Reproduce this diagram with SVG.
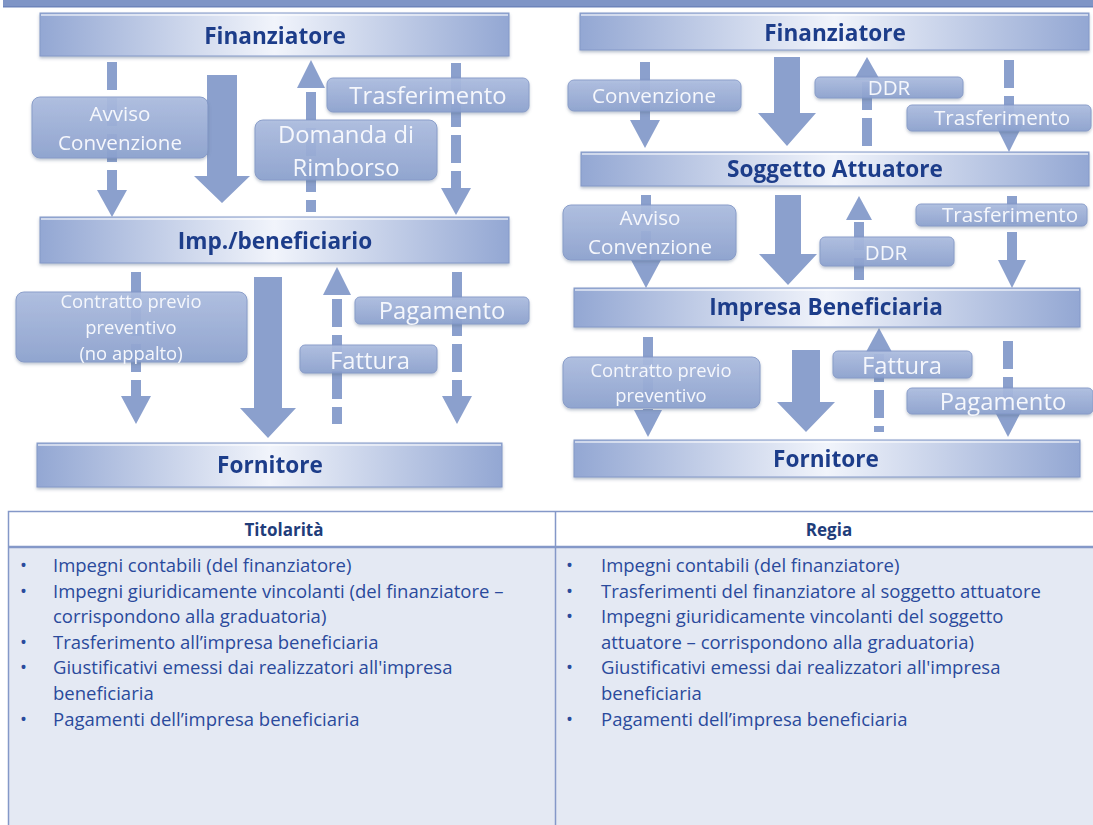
<svg xmlns="http://www.w3.org/2000/svg" width="1093" height="825" viewBox="0 0 1093 825">
  <defs>
    <linearGradient id="barGrad" x1="0" y1="0" x2="1" y2="0">
      <stop offset="0" stop-color="#93a7d3"/>
      <stop offset="0.5" stop-color="#f1f4fb"/>
      <stop offset="1" stop-color="#93a7d3"/>
    </linearGradient>
    <linearGradient id="labelGrad" x1="0" y1="0" x2="0" y2="1">
      <stop offset="0" stop-color="#adbde0"/>
      <stop offset="1" stop-color="#8da2cf"/>
    </linearGradient>
    <filter id="shadow" x="-5%" y="-20%" width="110%" height="160%">
      <feDropShadow dx="0" dy="2" stdDeviation="1.5" flood-color="#5a6a8a" flood-opacity="0.4"/>
    </filter>
    <style>
      .bar { fill: url(#barGrad); stroke: #8499c8; stroke-width: 1; }
      .barHi { fill: #ffffff; opacity: 0.55; }
      .barTxt { font-family: "Open Sans", "Liberation Sans", sans-serif; font-weight: bold; font-size: 22.6px; fill: #1f3d8a; text-anchor: middle; }
      .arrow { fill: #8ba0cd; }
      .dash { stroke: #8ba0cd; stroke-width: 10; fill: none; stroke-dasharray: 28 8; }
      .lbl { fill: url(#labelGrad); stroke: #8297c6; stroke-width: 1; opacity: 0.92; }
      .lblTxt { font-family: "Open Sans", "Liberation Sans", sans-serif; font-size: 23.8px; fill: #f5f7fc; text-anchor: middle; }
      .s19 { font-size: 20.6px; }
      .s17 { font-size: 18.4px; }
      .th { font-family: "Open Sans", "Liberation Sans", sans-serif; font-weight: bold; font-size: 17px; fill: #1f3d7a; text-anchor: middle; }
      .td { font-family: "Open Sans", "Liberation Sans", sans-serif; font-size: 18.5px; fill: #2a4a9c; }
      .grid { stroke: #8498c8; fill: none; }
    </style>
  </defs>

  <rect x="0" y="0" width="1093" height="825" fill="#ffffff"/>
  <!-- title band -->
  <rect x="3" y="0" width="1090" height="7" fill="#7f95c6"/>
  <rect x="3" y="6" width="1090" height="1.5" fill="#6d84ba"/>

  <!-- connectors -->
  <g id="connectors">
    <!-- titolarita -->
    <line class="dash" x1="112" y1="62" x2="112" y2="192"/>
    <polygon class="arrow" points="97,190 127,190 112,217"/>
    <polygon class="arrow" points="207,75 237,75 237,176 250,176 222,203 194,176 207,176"/>
    <polygon class="arrow" points="297,88 325,88 311,60"/>
    <line class="dash" x1="311" y1="92" x2="311" y2="212"/>
    <line class="dash" x1="456" y1="63" x2="456" y2="190"/>
    <polygon class="arrow" points="441,188 471,188 456,215"/>

    <line class="dash" x1="136" y1="272" x2="136" y2="398"/>
    <polygon class="arrow" points="121,396 151,396 136,424"/>
    <polygon class="arrow" points="254,277 282,277 282,408 296,408 268,438 240,408 254,408"/>
    <polygon class="arrow" points="323,295 351,295 337,267"/>
    <line class="dash" x1="337" y1="299" x2="337" y2="424"/>
    <line class="dash" x1="457" y1="272" x2="457" y2="398"/>
    <polygon class="arrow" points="442,396 472,396 457,424"/>

    <!-- regia -->
    <line class="dash" x1="645" y1="62" x2="645" y2="122"/>
    <polygon class="arrow" points="630,120 660,120 645,148"/>
    <polygon class="arrow" points="774,57 800,57 800,113 816,113 787,146 758,113 774,113"/>
    <polygon class="arrow" points="854,80 880,80 867,57"/>
    <line class="dash" x1="867" y1="82" x2="867" y2="150"/>
    <line class="dash" x1="1009" y1="60" x2="1009" y2="126"/>
    <polygon class="arrow" points="995,124 1023,124 1009,152"/>

    <line class="dash" x1="646" y1="195" x2="646" y2="262"/>
    <polygon class="arrow" points="631,260 661,260 646,288"/>
    <polygon class="arrow" points="775,195 801,195 801,254 817,254 788,285 759,254 775,254"/>
    <polygon class="arrow" points="846,220 872,220 859,196"/>
    <line class="dash" x1="859" y1="222" x2="859" y2="280"/>
    <line class="dash" x1="1012" y1="196" x2="1012" y2="262"/>
    <polygon class="arrow" points="998,260 1026,260 1012,288"/>

    <line class="dash" x1="648" y1="337" x2="648" y2="412"/>
    <polygon class="arrow" points="634,410 662,410 648,437"/>
    <polygon class="arrow" points="792,350 820,350 820,402 835,402 806,432 777,402 792,402"/>
    <polygon class="arrow" points="866,352 892,352 879,328"/>
    <line class="dash" x1="879" y1="354" x2="879" y2="432"/>
    <line class="dash" x1="1008" y1="341" x2="1008" y2="412"/>
    <polygon class="arrow" points="994,410 1022,410 1008,437"/>
  </g>

  <!-- connector labels -->
  <g id="labels" filter="url(#shadow)">
    <rect class="lbl" x="32" y="97" width="176" height="61" rx="8"/>
    <rect class="lbl" x="255" y="120" width="182" height="60" rx="8"/>
    <rect class="lbl" x="327" y="78" width="202" height="34" rx="6"/>
    <rect class="lbl" x="16" y="292" width="231" height="70" rx="8"/>
    <rect class="lbl" x="355" y="297" width="174" height="27" rx="5"/>
    <rect class="lbl" x="300" y="345" width="137" height="28" rx="5"/>

    <rect class="lbl" x="568" y="80" width="173" height="31" rx="6"/>
    <rect class="lbl" x="815" y="77" width="148" height="21" rx="5"/>
    <rect class="lbl" x="907" y="105" width="184" height="26" rx="5"/>
    <rect class="lbl" x="563" y="205" width="173" height="55" rx="8"/>
    <rect class="lbl" x="820" y="237" width="134" height="29" rx="5"/>
    <rect class="lbl" x="916" y="204" width="171" height="22" rx="5"/>
    <rect class="lbl" x="563" y="357" width="197" height="51" rx="8"/>
    <rect class="lbl" x="833" y="351" width="139" height="27" rx="5"/>
    <rect class="lbl" x="907" y="388" width="186" height="26" rx="5"/>
  </g>
  <g id="labelText">
    <text class="lblTxt s19" x="120" y="121">Avviso</text>
    <text class="lblTxt s19" x="120" y="150">Convenzione</text>
    <text class="lblTxt" x="346" y="143">Domanda di</text>
    <text class="lblTxt" x="346" y="176">Rimborso</text>
    <text class="lblTxt" x="428" y="104">Trasferimento</text>
    <text class="lblTxt s17" x="131" y="308">Contratto previo</text>
    <text class="lblTxt s17" x="131" y="334">preventivo</text>
    <text class="lblTxt s17" x="131" y="360">(no appalto)</text>
    <text class="lblTxt" x="442" y="319">Pagamento</text>
    <text class="lblTxt" x="370" y="369">Fattura</text>

    <text class="lblTxt s19" x="654" y="103">Convenzione</text>
    <text class="lblTxt s19" x="889" y="95">DDR</text>
    <text class="lblTxt s19" x="1002" y="125">Trasferimento</text>
    <text class="lblTxt s19" x="650" y="225">Avviso</text>
    <text class="lblTxt s19" x="650" y="254">Convenzione</text>
    <text class="lblTxt s19" x="886" y="260">DDR</text>
    <text class="lblTxt s19" x="1010" y="222">Trasferimento</text>
    <text class="lblTxt s17" x="661" y="377">Contratto previo</text>
    <text class="lblTxt s17" x="661" y="402">preventivo</text>
    <text class="lblTxt" x="902" y="374">Fattura</text>
    <text class="lblTxt" x="1003" y="410">Pagamento</text>
  </g>

  <!-- titolarita nodes -->
  <g id="finanziatore-t" filter="url(#shadow)">
    <rect class="bar" x="40" y="13" width="469" height="43"/>
    <rect class="barHi" x="41" y="14" width="467" height="2"/>
    <text class="barTxt" x="275" y="44">Finanziatore</text>
  </g>
  <g id="beneficiario-t" filter="url(#shadow)">
    <rect class="bar" x="40" y="217" width="469" height="46"/>
    <rect class="barHi" x="41" y="218" width="467" height="2"/>
    <text class="barTxt" x="275" y="249">Imp./beneficiario</text>
  </g>
  <g id="fornitore-t" filter="url(#shadow)">
    <rect class="bar" x="37" y="443" width="465" height="44"/>
    <rect class="barHi" x="38" y="444" width="463" height="2"/>
    <text class="barTxt" x="270" y="473">Fornitore</text>
  </g>

  <!-- regia nodes -->
  <g id="finanziatore-r" filter="url(#shadow)">
    <rect class="bar" x="580" y="13" width="509" height="37"/>
    <rect class="barHi" x="581" y="14" width="507" height="2"/>
    <text class="barTxt" x="835" y="41">Finanziatore</text>
  </g>
  <g id="soggetto-attuatore" filter="url(#shadow)">
    <rect class="bar" x="581" y="152" width="508" height="34"/>
    <rect class="barHi" x="582" y="153" width="506" height="2"/>
    <text class="barTxt" x="835" y="177">Soggetto Attuatore</text>
  </g>
  <g id="impresa-beneficiaria" filter="url(#shadow)">
    <rect class="bar" x="574" y="288" width="506" height="39"/>
    <rect class="barHi" x="575" y="289" width="504" height="2"/>
    <text class="barTxt" x="826" y="315">Impresa Beneficiaria</text>
  </g>
  <g id="fornitore-r" filter="url(#shadow)">
    <rect class="bar" x="574" y="440" width="506" height="37"/>
    <rect class="barHi" x="575" y="441" width="504" height="2"/>
    <text class="barTxt" x="826" y="467">Fornitore</text>
  </g>

  <!-- comparison table -->
  <g id="table">
    <rect x="8" y="511" width="1090" height="36" fill="#ffffff"/>
    <rect x="8" y="548" width="1090" height="280" fill="#e4e9f3"/>
    <rect class="grid" x="8.5" y="511.5" width="1090" height="320" stroke-width="1.5"/>
    <line class="grid" x1="8" y1="547" x2="1093" y2="547" stroke-width="2.5"/>
    <line class="grid" x1="555.5" y1="511" x2="555.5" y2="825" stroke-width="1.5"/>
    <text class="th" x="284" y="536">Titolarità</text>
    <text class="th" x="829" y="536">Regia</text>

    <g class="td">
      <text x="20" y="572">•</text>
      <text x="53" y="572">Impegni contabili (del finanziatore)</text>
      <text x="20" y="598">•</text>
      <text x="53" y="598">Impegni giuridicamente vincolanti (del finanziatore –</text>
      <text x="53" y="623">corrispondono alla graduatoria)</text>
      <text x="20" y="649">•</text>
      <text x="53" y="649">Trasferimento all’impresa beneficiaria</text>
      <text x="20" y="674">•</text>
      <text x="53" y="674">Giustificativi emessi dai realizzatori all'impresa</text>
      <text x="53" y="700">beneficiaria</text>
      <text x="20" y="726">•</text>
      <text x="53" y="726">Pagamenti dell’impresa beneficiaria</text>

      <text x="566" y="572">•</text>
      <text x="601" y="572">Impegni contabili (del finanziatore)</text>
      <text x="566" y="598">•</text>
      <text x="601" y="598">Trasferimenti del finanziatore al soggetto attuatore</text>
      <text x="566" y="623">•</text>
      <text x="601" y="623">Impegni giuridicamente vincolanti del soggetto</text>
      <text x="601" y="649">attuatore – corrispondono alla graduatoria)</text>
      <text x="566" y="674">•</text>
      <text x="601" y="674">Giustificativi emessi dai realizzatori all'impresa</text>
      <text x="601" y="700">beneficiaria</text>
      <text x="566" y="726">•</text>
      <text x="601" y="726">Pagamenti dell’impresa beneficiaria</text>
    </g>
  </g>
</svg>
